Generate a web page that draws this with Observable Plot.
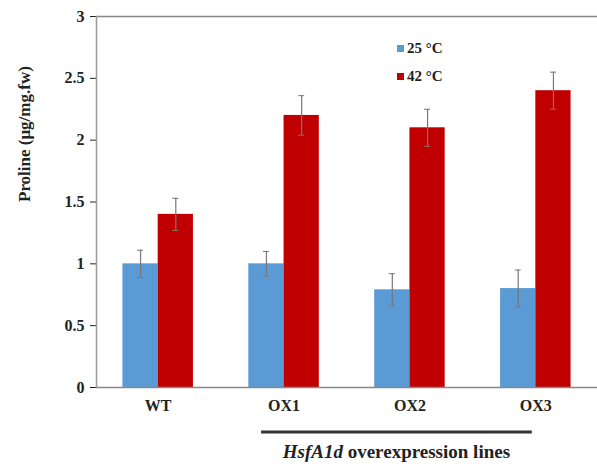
<!DOCTYPE html>
<html>
<head>
<meta charset="utf-8">
<script src="https://cdn.jsdelivr.net/npm/d3@7"></script>
<script src="https://cdn.jsdelivr.net/npm/@observablehq/plot@0.6"></script>
<style>
  html, body { margin: 0; padding: 0; background: #fff; }
  #wrap { position: relative; width: 597px; height: 468px; font-family: "Liberation Serif", serif; }
  #legend { position: absolute; left: 397px; top: 34px; font-weight: bold; font-size: 15px; color: #222; }
  #legend .item { display: flex; align-items: center; height: 28px; }
  #legend .sw { width: 7px; height: 7px; margin-right: 3px; }
</style>
</head>
<body>
<div id="wrap"><div id="legend"></div></div>
<script>
const categories = ["WT", "OX1", "OX2", "OX3"];
const temps = ["25 °C", "42 °C"];
const colors = ["#5b9bd5", "#c00000"];
const mean25 = [1.0, 1.0, 0.79, 0.8];
const mean42 = [1.4, 2.2, 2.1, 2.4];
const err25 = [0.11, 0.1, 0.13, 0.15];
const err42 = [0.13, 0.16, 0.15, 0.15];
const yTicks = [0, 0.5, 1, 1.5, 2, 2.5, 3];
const yLabel = "Proline (μg/mg.fw)";
const groupLabelItalic = "HsfA1d";
const groupLabelRest = " overexpression lines";
const groupMembers = ["OX1", "OX3"];

const W = 597, H = 468, mL = 96, mR = 0, mT = 16, mB = 81;
const pInner = 0.44, pOuter = 0.21;
const band = d3.scaleBand().domain(categories).range([mL, W - mR]).paddingInner(pInner).paddingOuter(pOuter);
const bw = band.bandwidth();

const rows25 = categories.map((c, i) => ({cat: c, v: mean25[i], e: err25[i]}));
const rows42 = categories.map((c, i) => ({cat: c, v: mean42[i], e: err42[i]}));
const capHalf = 3;
const serif = "'Liberation Serif', 'DejaVu Serif', serif";

const plot = Plot.plot({
  width: W, height: H,
  marginLeft: mL, marginRight: mR, marginTop: mT, marginBottom: mB,
  style: {fontFamily: serif, fontSize: "16px", fontWeight: "bold", color: "#222", background: "#fff"},
  x: {type: "band", domain: categories, paddingInner: pInner, paddingOuter: pOuter, round: false, tickSize: 0, tickPadding: 12, label: null},
  y: {domain: [0, 3], ticks: yTicks, tickSize: 6, tickPadding: 6, tickFormat: d => String(d), label: null},
  marks: [
    Plot.barY(rows25, {x: "cat", y: "v", fill: colors[0], insetRight: bw / 2}),
    Plot.barY(rows42, {x: "cat", y: "v", fill: colors[1], insetLeft: bw / 2}),
    Plot.ruleX(rows25, {x: "cat", y1: d => d.v - d.e, y2: d => d.v + d.e, dx: -bw / 4, stroke: "#777", strokeWidth: 1.2}),
    Plot.ruleX(rows42, {x: "cat", y1: d => d.v - d.e, y2: d => d.v + d.e, dx: bw / 4, stroke: "#777", strokeWidth: 1.2}),
    Plot.tickY(rows25, {x: "cat", y: d => d.v + d.e, insetLeft: bw / 4 - capHalf, insetRight: bw * 3 / 4 - capHalf, stroke: "#777"}),
    Plot.tickY(rows25, {x: "cat", y: d => d.v - d.e, insetLeft: bw / 4 - capHalf, insetRight: bw * 3 / 4 - capHalf, stroke: "#777"}),
    Plot.tickY(rows42, {x: "cat", y: d => d.v + d.e, insetLeft: bw * 3 / 4 - capHalf, insetRight: bw / 4 - capHalf, stroke: "#777"}),
    Plot.tickY(rows42, {x: "cat", y: d => d.v - d.e, insetLeft: bw * 3 / 4 - capHalf, insetRight: bw / 4 - capHalf, stroke: "#777"}),
    Plot.ruleY([0, 3], {stroke: "#888", strokeWidth: 1.5}),
    Plot.frame({anchor: "left", stroke: "#999", strokeWidth: 1.5}),
    Plot.text([yLabel], {frameAnchor: "left", rotate: -90, dx: -72, fontSize: 17, fontWeight: "bold", fill: "#222", fontFamily: serif})
  ]
});

const wrap = document.getElementById("wrap");
wrap.insertBefore(plot, wrap.firstChild);

// group bracket and label below the axis
const yr = plot.scale("y").range;
const yBottom = Math.max(...yr);
const svg = d3.select(plot);
const bx1 = band(groupMembers[0]) + bw * 0.18;
const bx2 = band(groupMembers[1]) + bw * 0.45;
svg.append("line")
  .attr("x1", bx1).attr("x2", bx2)
  .attr("y1", yBottom + 45).attr("y2", yBottom + 45)
  .attr("stroke", "#333").attr("stroke-width", 3);
const t = svg.append("text")
  .attr("x", (bx1 + bx2) / 2).attr("y", yBottom + 71)
  .attr("text-anchor", "middle")
  .attr("font-family", serif)
  .attr("font-size", 19).attr("font-weight", "bold").attr("fill", "#222");
t.append("tspan").attr("font-style", "italic").text(groupLabelItalic);
t.append("tspan").text(groupLabelRest);

// legend
const lg = d3.select("#legend");
temps.forEach((tx, i) => {
  const it = lg.append("div").attr("class", "item");
  it.append("div").attr("class", "sw").style("background", colors[i]);
  it.append("span").text(tx);
});
</script>
</body>
</html>
